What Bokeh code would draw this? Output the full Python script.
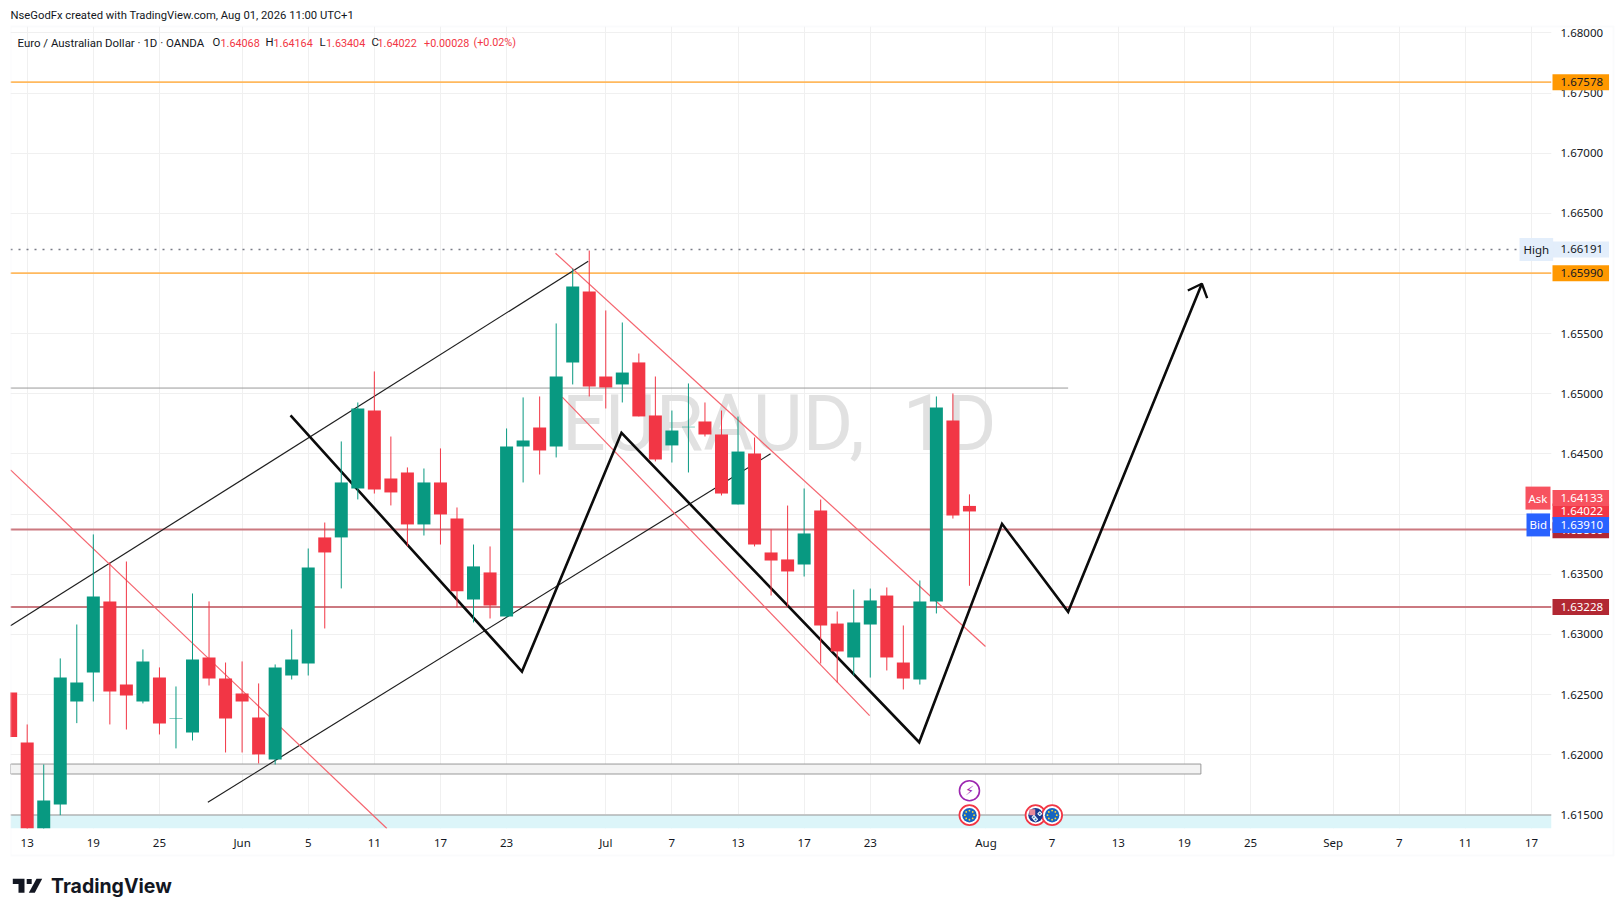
from math import cos, sin, pi
from bokeh.plotting import figure
from bokeh.layouts import column
from bokeh.models import (ColumnDataSource, Label, BoxAnnotation, PolyAnnotation,
                          FixedTicker, NumeralTickFormatter, Range1d)
from bokeh.core.properties import value
from bokeh.embed import file_html
from bokeh.resources import INLINE

# ---------- data ----------
first_bar = -1
opens = [1.62517,1.62101,1.61350,1.61586,1.62442,1.62683,1.63274,1.62584,1.62442,1.62642,1.62296,1.62185,1.62808,1.62633,1.62509,1.62309,1.61960,1.62658,1.62758,1.63806,1.63806,1.64213,1.64861,1.64296,1.64346,1.63914,1.64263,1.63964,1.63290,1.63515,1.63149,1.64562,1.64720,1.64562,1.65261,1.65851,1.65144,1.65078,1.65261,1.64820,1.64571,1.64722,1.64770,1.64662,1.64080,1.64504,1.63681,1.63623,1.63581,1.64030,1.63090,1.62808,1.63082,1.63323,1.62766,1.62625,1.63273,1.64778,1.64068]
highs = [1.62517,1.62251,1.61918,1.62800,1.63082,1.63831,1.63598,1.63606,1.62875,1.62725,1.62567,1.63340,1.63274,1.62766,1.62775,1.62592,1.62750,1.63041,1.63714,1.63930,1.64604,1.64928,1.65186,1.64645,1.64388,1.64379,1.64546,1.64055,1.63747,1.63731,1.64712,1.64970,1.64978,1.65585,1.66042,1.66191,1.65693,1.65593,1.65335,1.65144,1.64861,1.65086,1.64928,1.64861,1.64811,1.64637,1.63872,1.64071,1.64213,1.64121,1.63190,1.63373,1.63381,1.63390,1.63074,1.63448,1.64978,1.65003,1.64164]
lows  = [1.62146,1.61150,1.61250,1.61497,1.62262,1.62442,1.62251,1.62209,1.62426,1.62168,1.62052,1.62118,1.62575,1.62018,1.62018,1.61927,1.61918,1.62625,1.62658,1.63049,1.63382,1.64122,1.64171,1.64072,1.63731,1.63822,1.63747,1.63224,1.63099,1.63132,1.63140,1.64263,1.64329,1.64471,1.65078,1.64978,1.64878,1.64928,1.64812,1.64438,1.64429,1.64346,1.64645,1.64155,1.64080,1.63731,1.63323,1.63232,1.63481,1.62758,1.62600,1.62658,1.62641,1.62700,1.62542,1.62583,1.63174,1.63963,1.63404]
closes= [1.62146,1.61250,1.61619,1.62642,1.62600,1.63315,1.62525,1.62492,1.62775,1.62259,1.62300,1.62791,1.62633,1.62301,1.62442,1.62002,1.62725,1.62791,1.63556,1.63681,1.64263,1.64878,1.64205,1.64180,1.63914,1.64263,1.63997,1.63359,1.63565,1.63240,1.64562,1.64612,1.64529,1.65144,1.65892,1.65061,1.65053,1.65177,1.64812,1.64454,1.64695,1.64726,1.64662,1.64171,1.64520,1.63747,1.63614,1.63523,1.63839,1.63074,1.62858,1.63099,1.63282,1.62808,1.62633,1.63273,1.64886,1.63988,1.64022]

tick_bars = [0,4,8,13,17,21,25,29,35,39,43,47,51,58,62,66,70,74,79,83,87,91]
tick_names = ["13","19","25","Jun","5","11","17","23","Jul","7","13","17","23","Aug","7","13","19","25","Sep","7","11","17"]
price_ticks = [1.615,1.62,1.625,1.63,1.635,1.64,1.645,1.65,1.655,1.66,1.665,1.67,1.675,1.68]

channel_up_a = ([-1.01,33.94],[1.63071,1.66102])
channel_up_b = ([10.93,44.97],[1.61605,1.64501])
red_left = ([-1.01,21.76],[1.64368,1.61386])
red_top = ([31.96,57.97],[1.66169,1.62899])
red_bot = ([32.37,50.96],[1.64972,1.62325])
zig_x = [15.93,29.93,35.95,53.96,58.97,62.97,71.06]
zig_y = [1.6482,1.62691,1.64676,1.62103,1.63919,1.63188,1.65915]
arrow_x = [70.21,71.06,71.38]
arrow_y = [1.65859,1.65915,1.65795]

level_orange = [1.67591,1.66003]
level_high = 1.66200
level_red = [1.63872,1.63228]
level_gray = 1.65048
gray_zone = (1.61922,1.61839)
cyan_top = 1.61498
watermark = "EURAUD,\u00A0 1D"

# ---------- layout ----------
W, H = 1623, 916
FRAME_TOP, FRAME_BOTTOM = 26, 828
TEXT = "#131722"
FONT = "Noto Sans"
HFONT = "Roboto"
UP, DOWN = "#089981", "#F23645"
xmin, xmax = -1.01, 92.21
ymin, ymax = 1.61386, 1.68054

def price_px(v):
    return FRAME_TOP + (ymax - v) / (ymax - ymin) * (FRAME_BOTTOM - FRAME_TOP)

p = figure(width=W, height=H, x_range=Range1d(xmin, xmax), y_range=Range1d(ymin, ymax),
           output_backend="svg", toolbar_location=None, y_axis_location="right",
           min_border_left=10, min_border_right=72, min_border_top=FRAME_TOP, min_border_bottom=H - FRAME_BOTTOM,
           background_fill_color="white", border_fill_color="white", outline_line_color=None)

# transparent sheet over the whole page for the annotations outside the plotting frame
sheet = figure(frame_width=W, frame_height=H, x_range=Range1d(0, W), y_range=Range1d(H, 0),
               output_backend="svg", toolbar_location=None, x_axis_location=None, y_axis_location=None,
               min_border=0, min_border_left=0, min_border_right=0, min_border_top=0, min_border_bottom=0,
               background_fill_alpha=0, border_fill_alpha=0, outline_line_color=None,
               margin=(-H, 0, 0, 0))
sheet.grid.visible = False

p.xaxis.ticker = FixedTicker(ticks=tick_bars)
p.xaxis.major_label_overrides = dict(zip(tick_bars, tick_names))
p.yaxis.ticker = FixedTicker(ticks=price_ticks)
p.yaxis.formatter = NumeralTickFormatter(format="0.00000")
for ax in (p.xaxis[0], p.yaxis[0]):
    ax.axis_line_color = None
    ax.major_tick_line_color = None
    ax.minor_tick_line_color = None
    ax.major_label_text_color = TEXT
    ax.major_label_text_font = FONT
    ax.major_label_text_font_size = "11.5px"
p.xaxis.major_label_standoff = 0
p.yaxis.major_label_standoff = 3
p.xgrid.ticker = FixedTicker(ticks=tick_bars)
p.ygrid.ticker = FixedTicker(ticks=price_ticks)
p.xgrid.grid_line_color = "#F0F0F0"
p.ygrid.grid_line_color = "#F0F0F0"

sheet.add_layout(BoxAnnotation(left=10, right=1613, top=FRAME_TOP, bottom=855,
                               left_units="canvas", right_units="canvas", top_units="canvas", bottom_units="canvas",
                               fill_color=None, line_color="#F0F3F5", line_width=2))

p.text([45.5], [1.64748], text=[watermark], text_font=value("Roboto"), text_font_size="77px",
       text_color="#E1E1E1", text_align="center", text_baseline="middle")

# zones
p.quad(left=[xmin], right=[xmax], top=[cyan_top], bottom=[ymin], fill_color="#DCF5F9", line_color=None)
p.segment([xmin], [cyan_top], [xmax], [cyan_top], line_color="#999999", line_width=1)
p.quad(left=[xmin], right=[71.0], top=[gray_zone[0]], bottom=[gray_zone[1]],
       fill_color="#F3F3F3", line_color="#999999", line_width=1)

# horizontal levels
p.segment([xmin, xmin], level_orange, [xmax, xmax], level_orange, line_color="#FFB95E", line_width=1.8)
p.segment([xmin], [level_high], [xmax], [level_high], line_color="#787B86", line_width=1.5, line_dash="2 6")
p.segment([xmin, xmin], level_red, [xmax, xmax], level_red, line_color="#CB7980", line_width=2)
p.segment([xmin], [level_gray], [62.97], [level_gray], line_color="#999999", line_width=1)

# drawings
p.line(*channel_up_a, line_color="#1E1E1E", line_width=1.2)
p.line(*channel_up_b, line_color="#1E1E1E", line_width=1.2)
for seg in (red_left, red_top, red_bot):
    p.line(*seg, line_color="#F5656F", line_width=1.2)
p.line(zig_x, zig_y, line_color="#0B0B0B", line_width=2.6, line_join="miter")
p.line(arrow_x, arrow_y, line_color="#0B0B0B", line_width=2.4)

# candles
xs = [first_bar + i for i in range(len(opens))]
cols = [UP if c >= o else DOWN for o, c in zip(opens, closes)]
src = ColumnDataSource(dict(x=xs, o=opens, h=highs, l=lows, c=closes, col=cols))
p.segment("x", "h", "x", "l", source=src, line_color="col", line_width=1)
tops = [max(o, c) for o, c in zip(opens, closes)]
bots = [min(o, c) for o, c in zip(opens, closes)]
bar_px = 13
p.vbar(xs, bar_px / 16.53, tops, bots, fill_color=cols, line_color=None)

# events
event_x = [57, 61, 62]
event_y = 1.61497
spark_y = 1.617
p.scatter(event_x, [event_y] * 3, size=20, marker="circle", fill_color="white", line_color="#F23645", line_width=1.8)
p.scatter(event_x, [event_y] * 3, size=14.5, marker="circle", fill_color=["#1565C0", "#1A3A8F", "#1565C0"], line_color=None)
for ex in (57, 62):
    sx = [ex + 4.6 / 16.53 * cos(k * pi / 4) for k in range(8)]
    sy = [event_y + 4.6 * 8.314e-5 * sin(k * pi / 4) for k in range(8)]
    p.scatter(sx, sy, size=1.8, marker="circle", fill_color="#FDD835", line_color=None)
p.scatter([60.8], [event_y + 0.00025], size=6, marker="square", fill_color="#E98A9A", line_color=None)
p.scatter([60.9, 61.25, 61.0], [event_y - 0.00018, event_y + 0.00012, event_y - 0.00035], size=3.5,
          marker="plus", line_color="white", line_width=1)
p.scatter([57], [spark_y], size=20, marker="circle", fill_color="white", line_color="#9C27B0", line_width=1.6)
p.text([57], [spark_y], text=["\u26A1"], text_font=value("DejaVu Sans"), text_font_size="13px", text_color="#9C27B0",
       text_align="center", text_baseline="middle")

# header texts
def txt(x, y, s, color=TEXT, size="11.3px", font=HFONT, style="normal"):
    sheet.add_layout(Label(x=x, y=y, x_units="canvas", y_units="canvas", text=s, text_color=color,
                           text_font_size=size, text_font=font, text_font_style=style,
                           text_baseline="middle", text_align="left"))

txt(10, 15, "NseGodFx created with TradingView.com, Aug 01, 2026 11:00 UTC+1", size="11.25px")
txt(17, 42, "Euro / Australian Dollar \u00B7 1D \u00B7 OANDA", size="11.45px")
for x, s in ((212, "O"), (265, "H"), (319, "L"), (371, "C")):
    txt(x, 42, s)
for x, s in ((220, "1.64068"), (273, "1.64164"), (325.5, "1.63404"), (377, "1.64022"),
             (423.5, "+0.00028"), (473, "(+0.02%)")):
    txt(x, 42, s, color=DOWN, size="10.8px")

# price badges
def badge(price, s, bg, fg, left=1552, pl=8, pr=6):
    sheet.add_layout(Label(x=left, y=price_px(price), x_units="canvas", y_units="canvas", text=s, text_color=fg,
                           text_font_size="11.5px", text_font=FONT, text_baseline="middle", text_align="left",
                           background_fill_color=bg, padding=(pl, pr, 4, 4)))

badge(level_orange[0], "1.67578", "#FF9800", TEXT)
badge(level_high, "1.66191", "#E3EEFB", TEXT)
badge(level_high, "High", "#E3EEFB", TEXT, left=1519, pl=4, pr=4)
badge(level_orange[1], "1.65990", "#FF9800", TEXT)
badge(1.63228, "1.63228", "#B22833", "white")
badge(1.63866, "1.63866", "#B22833", "white")
badge(1.64022, "1.64022", "#F23645", "white")
badge(1.64133, "1.64133", "#F7525F", "white")
badge(1.64133, "Ask", "#F7525F", "white", left=1525, pl=3, pr=3)
badge(1.6391, "1.63910", "#2962FF", "white")
badge(1.6391, "Bid", "#2962FF", "white", left=1526, pl=3, pr=3)

# logo
def poly(xs_, ys_):
    sheet.add_layout(PolyAnnotation(xs=xs_, ys=ys_, xs_units="canvas", ys_units="canvas",
                                    fill_color="#131722", fill_alpha=1, line_color=None))

poly([12.3, 24, 24, 18, 18, 12.3], [878.3, 878.3, 892.3, 892.3, 883.6, 883.6])
poly([36, 41.7, 34.3, 28.3], [878.3, 878.3, 892.3, 892.3])
poly([26.2, 31.2, 31.2, 26.2], [878.5, 878.5, 883.5, 883.5])
txt(50.5, 885, "TradingView", color="#131722", size="19.5px", font="Inter", style="bold")

page = column(p, sheet)
open("out.html", "w").write(file_html(page, INLINE))
